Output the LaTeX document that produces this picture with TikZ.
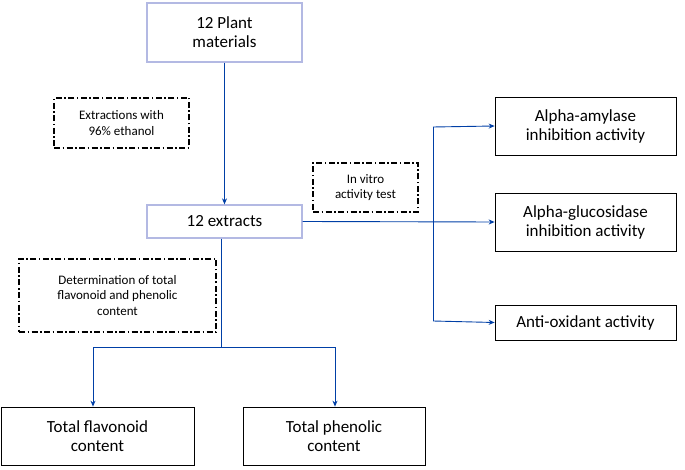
\documentclass[tikz,border=0pt]{standalone}
\usepackage{fontspec}
\setmainfont{Carlito}
\usetikzlibrary{arrows.meta}
\begin{document}
\begin{tikzpicture}[x=1pt,y=-1pt,
 blue/.style={draw=cyan!30!blue!30,line width=1.3pt,fill=white,align=center,font=\fontsize{17}{19}\selectfont},
 box/.style={draw=black,line width=0.7pt,align=center,font=\fontsize{17}{19}\selectfont},
 dd/.style={draw=black,line width=1.1pt,dash pattern=on 6pt off 2.5pt on 1.5pt off 2.5pt,align=center,font=\fontsize{13}{15.5}\selectfont},
 ar/.style={draw=blue!45!teal!90!black,line width=0.9pt,-{Stealth[length=6pt,width=5pt]}},
 ln/.style={draw=blue!45!teal!90!black,line width=0.9pt}]
\useasboundingbox (0,0) rectangle (685,470);
\node[blue,minimum width=155,minimum height=59] (pm) at (224.5,32.5) {12 Plant\\materials};
\node[dd,minimum width=135,minimum height=50] (ex) at (121.5,123) {Extractions with\\96\% ethanol};
\node[blue,minimum width=155,minimum height=33] (ext) at (224.5,221.5) {12 extracts};
\node[dd,minimum width=105,minimum height=49] (iv) at (365.5,187.5) {In vitro\\activity test};
\node[box,minimum width=181,minimum height=58] (aa) at (585.5,126) {Alpha-amylase\\inhibition activity};
\node[box,minimum width=181,minimum height=58] (ag) at (585.5,222) {Alpha-glucosidase\\inhibition activity};
\node[box,minimum width=181,minimum height=35] (ao) at (585.5,322.5) {Anti-oxidant activity};
\node[dd,minimum width=197,minimum height=73] (det) at (117.5,295.5) {Determination of total\\flavonoid and phenolic\\content};
\node[box,minimum width=193,minimum height=58] (tf) at (97.5,436) {Total flavonoid\\content};
\node[box,minimum width=182,minimum height=58] (tp) at (334,436) {Total phenolic\\content};
\coordinate (v1) at (433,127);
\coordinate (v2) at (433,321);
\coordinate (b) at (221,347);
\coordinate (bl) at (93,347);
\coordinate (br) at (335,347);
\draw[ar] (pm.south) -- (ext.north);
\draw[ar] (ext.east) -- (ag.west);
\draw[ln] (v1) -- (v2);
\draw[ar] (v1) -- (aa.west);
\draw[ar] (v2) -- (ao.west);
\draw[ln] (ext.south -| b) -- (b);
\draw[ln] (bl) -- (br);
\draw[ar] (bl) -- (bl |- tf.north);
\draw[ar] (br) -- (br |- tp.north);
\end{tikzpicture}
\end{document}
